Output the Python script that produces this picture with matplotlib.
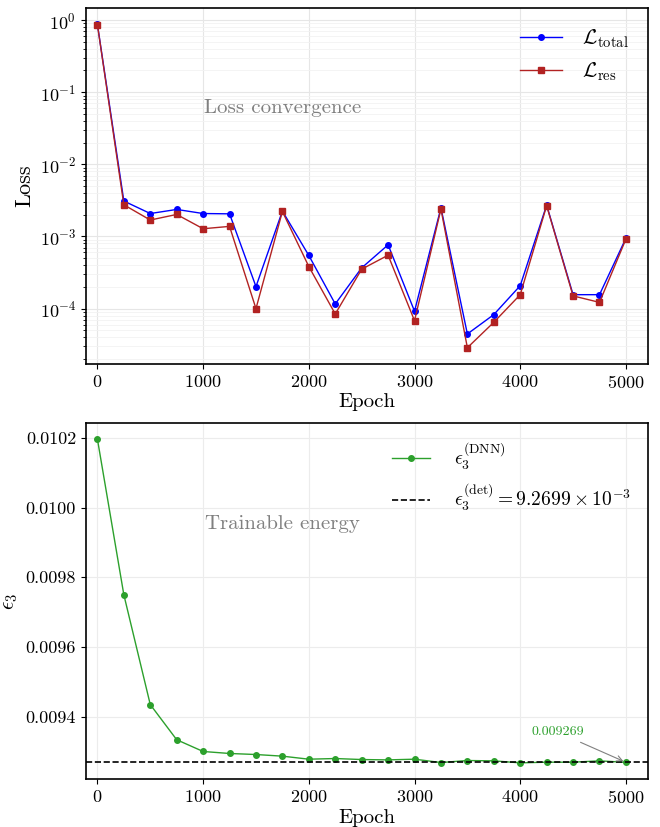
import numpy as np
import matplotlib
matplotlib.use('Agg')
import matplotlib.pyplot as plt
from matplotlib import rc

rc('font', family='serif', serif=['cmr10'], size=13)
rc('mathtext', fontset='cm')
plt.rcParams['axes.formatter.use_mathtext'] = True

# data
epochs = np.arange(0, 5001, 250)
loss_total = [0.87, 3.1e-3, 2.08e-3, 2.37e-3, 2.08e-3, 2.06e-3, 2.02e-4,
              2.25e-3, 5.45e-4, 1.16e-4, 3.67e-4, 7.66e-4, 9.2e-5, 2.5e-3,
              4.45e-5, 8.26e-5, 2.08e-4, 2.72e-3, 1.56e-4, 1.56e-4, 9.48e-4]
loss_res = [0.86, 2.75e-3, 1.69e-3, 2.02e-3, 1.28e-3, 1.38e-3, 1.0e-4,
            2.22e-3, 3.83e-4, 8.43e-5, 3.52e-4, 5.5e-4, 6.8e-5, 2.4e-3,
            2.87e-5, 6.46e-5, 1.56e-4, 2.67e-3, 1.5e-4, 1.22e-4, 9.2e-4]
eps_dnn = [0.010196, 0.0097496, 0.0094346, 0.0093338, 0.0093001, 0.0092944,
           0.0092914, 0.0092867, 0.009278, 0.0092799, 0.009277, 0.009276,
           0.009278, 0.0092684, 0.0092742, 0.0092732, 0.0092675, 0.0092694,
           0.0092694, 0.0092732, 0.009269]
eps_det = 9.2699e-3

fig = plt.figure(figsize=(6.6, 8.27), dpi=100)
ax1 = fig.add_axes([0.130, 0.560, 0.852, 0.430])
ax2 = fig.add_axes([0.130, 0.058, 0.852, 0.4305])

# %% top panel: losses
ax1.semilogy(epochs, loss_total, '-o', color='blue', lw=1, ms=4,
             label=r'$\mathcal{L}_{\mathrm{total}}$')
ax1.semilogy(epochs, loss_res, '-s', color='#b22222', lw=1, ms=4,
             label=r'$\mathcal{L}_{\mathrm{res}}$')
ax1.set_xlim(-110, 5210)
ax1.set_xlabel('Epoch', fontsize=15, labelpad=2)
ax1.set_ylabel('Loss', fontsize=16)
ax1.grid(True, which='major', color='#e6e6e6', lw=0.8)
ax1.grid(True, which='minor', axis='y', color='#f2f2f2', lw=0.6)
ax1.text(0.35, 0.72, 'Loss convergence', transform=ax1.transAxes,
         ha='center', va='center', fontsize=15, color='gray')
ax1.legend(loc='upper right', frameon=False, fontsize=15,
           handletextpad=1.0)

# %% bottom panel: energy
ax2.plot(epochs, eps_dnn, '-o', color='#2ca02c', lw=1, ms=4,
         label=r'$\epsilon_3^{(\mathrm{DNN})}$')
ax2.axhline(eps_det, color='black', ls='--', lw=1.2,
            label=r'$\epsilon_3^{(\mathrm{det})} = 9.2699\times10^{-3}$')
ax2.set_xlim(-110, 5210)
ax2.set_xlabel('Epoch', fontsize=15, labelpad=2)
ax2.set_ylabel(r'$\epsilon_3$', fontsize=15)
ax2.set_yticks([0.0094, 0.0096, 0.0098, 0.0100, 0.0102])
ax2.set_yticklabels(['0.0094', '0.0096', '0.0098', '0.0100', '0.0102'])
ax2.grid(True, color='#ececec', lw=0.8)
ax2.text(0.35, 0.717, 'Trainable energy', transform=ax2.transAxes,
         ha='center', va='center', fontsize=15, color='gray')
ax2.annotate('%.6f' % eps_dnn[-1], xy=(epochs[-1], eps_dnn[-1]),
             xytext=(4357, 0.009355), ha='center', va='center',
             fontsize=10, color='#2ca02c',
             arrowprops=dict(arrowstyle='->', color='gray', lw=0.8))
ax2.legend(loc='upper right', frameon=False, fontsize=14,
           handletextpad=1.2)

for ax in (ax1, ax2):
    for s in ax.spines.values():
        s.set_linewidth(1.2)

plt.savefig('out.png', dpi=100)
